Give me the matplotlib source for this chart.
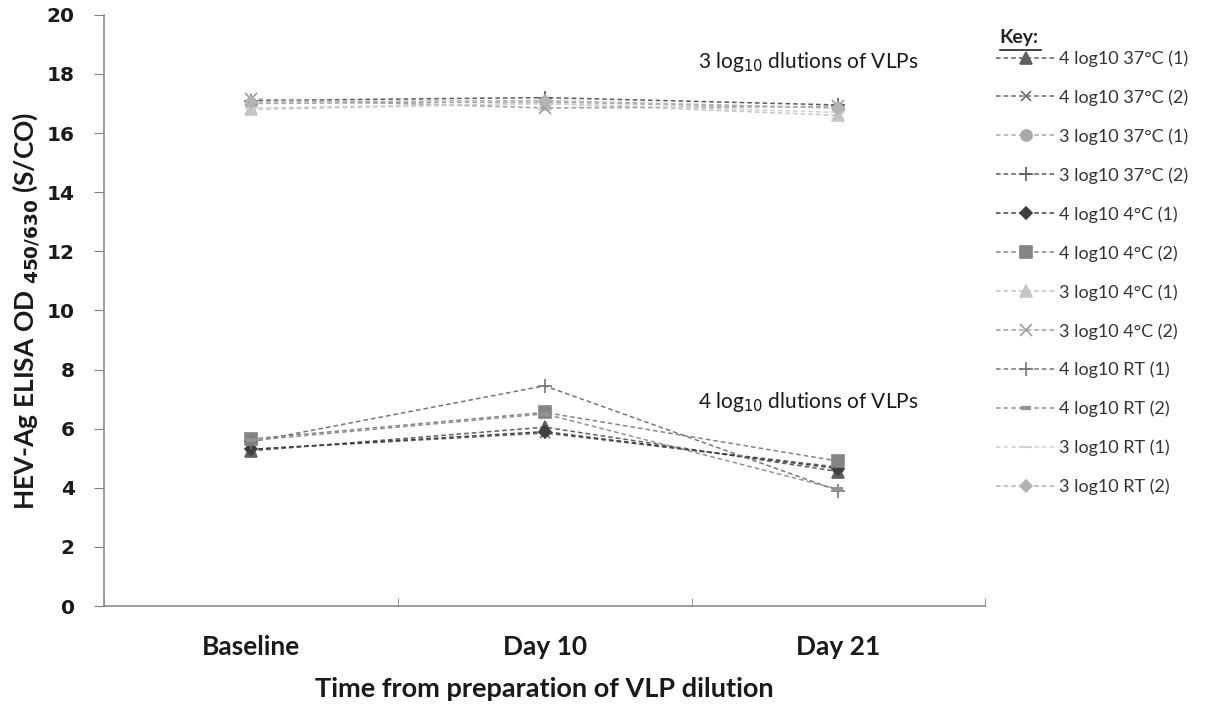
import matplotlib
matplotlib.use("Agg")
import matplotlib.pyplot as plt
from matplotlib.lines import Line2D

categories = ["Baseline", "Day 10", "Day 21"]

labels = [
    "4 log10 37°C (1)", "4 log10 37°C (2)", "3 log10 37°C (1)", "3 log10 37°C (2)",
    "4 log10 4°C (1)", "4 log10 4°C (2)", "3 log10 4°C (1)", "3 log10 4°C (2)",
    "4 log10 RT (1)", "4 log10 RT (2)", "3 log10 RT (1)", "3 log10 RT (2)",
]

s_4log_37_1 = [5.25, 6.05, 4.55]
s_4log_37_2 = [5.30, 5.85, 4.70]
s_3log_37_1 = [17.00, 17.05, 16.85]
s_3log_37_2 = [17.10, 17.20, 16.95]
s_4log_4_1 = [5.30, 5.90, 4.65]
s_4log_4_2 = [5.65, 6.55, 4.90]
s_3log_4_1 = [16.80, 17.00, 16.60]
s_3log_4_2 = [17.15, 16.85, 16.90]
s_4log_RT_1 = [5.55, 7.45, 3.90]
s_4log_RT_2 = [5.60, 6.50, 3.95]
s_3log_RT_1 = [16.85, 17.00, 16.70]
s_3log_RT_2 = [17.05, 17.10, 16.85]

series = [s_4log_37_1, s_4log_37_2, s_3log_37_1, s_3log_37_2,
          s_4log_4_1, s_4log_4_2, s_3log_4_1, s_3log_4_2,
          s_4log_RT_1, s_4log_RT_2, s_3log_RT_1, s_3log_RT_2]

styles = [
    dict(marker="^", color="#5f5f5f", ms=8),
    dict(marker="x", color="#6a6a6a", ms=7),
    dict(marker="o", color="#a9a9a9", ms=8),
    dict(marker="+", color="#5a5a5a", ms=10),
    dict(marker="D", color="#3f3f3f", ms=6),
    dict(marker="s", color="#858585", ms=8),
    dict(marker="^", color="#c4c4c4", ms=8),
    dict(marker="x", color="#9c9c9c", ms=8),
    dict(marker="+", color="#767676", ms=10),
    dict(marker="_", color="#939393", ms=7, mew=3),
    dict(marker="_", color="#cfcfcf", ms=8, mew=1.5),
    dict(marker="D", color="#b3b3b3", ms=6),
]

fig = plt.figure(figsize=(12.09, 7.06), dpi=100)
ax = fig.add_axes([0.086, 0.1416, 0.729, 0.8374])

x = list(range(len(categories)))
handles = []
for vals, st, lab in zip(series, styles, labels):
    kw = dict(st)
    mew = kw.pop("mew", 1.2)
    (h,) = ax.plot(x, vals, linestyle=(0, (3, 2)), linewidth=1.1,
                   color=kw["color"], marker=kw["marker"], markersize=kw["ms"],
                   markeredgewidth=mew, markerfacecolor=kw["color"],
                   markeredgecolor=kw["color"], label=lab)
    handles.append(h)

ax.set_xlim(-0.5, 2.5)
ax.set_ylim(0, 20)
ax.set_yticks(range(0, 21, 2))
ax.set_xticks(x)
ax.set_xticklabels(categories, fontsize=19, fontweight="bold", family="Lato", color="#1a1a1a")
ax.set_xticks([-0.5, 0.5, 1.5, 2.5], minor=True)
ax.tick_params(axis="x", which="major", length=0, pad=21)
ax.tick_params(axis="x", which="minor", length=6, direction="in", color="#808080")
ax.tick_params(axis="y", length=7, color="#808080", labelsize=14.5, pad=14)
for t in ax.get_yticklabels():
    t.set_fontweight("bold")
    t.set_color("#1a1a1a")
for s in ["top", "right"]:
    ax.spines[s].set_visible(False)
for s in ["left", "bottom"]:
    ax.spines[s].set_color("#8c8c8c")
    ax.spines[s].set_linewidth(1.2)

ax.set_xlabel("Time from preparation of VLP dilution", fontsize=19.5, fontweight="bold",
              family="Lato", labelpad=13, color="#1a1a1a")
ax.set_ylabel("HEV-Ag ELISA OD $_{\\mathbf{450/630}}$ (S/CO)", fontsize=19, fontweight="bold",
              family="Lato", labelpad=3, color="#1a1a1a")

ax.text(1.523, 18.4, "3 log$_{10}$ dlutions of VLPs", fontsize=15, family="Lato",
        va="center", ha="left", color="#1a1a1a")
ax.text(1.523, 6.9, "4 log$_{10}$ dlutions of VLPs", fontsize=15, family="Lato",
        va="center", ha="left", color="#1a1a1a")

fig.text(0.827, 0.947, "Key:", fontsize=14, fontweight="bold", family="Lato",
         ha="left", va="center", color="#222222")
fig.add_artist(Line2D([0.827, 0.861], [0.929, 0.929], color="#222222", linewidth=1.2))

leg = fig.legend(handles=handles, loc="upper left", bbox_to_anchor=(0.818, 0.939),
                 frameon=False, handlelength=3.3, handletextpad=0.2,
                 labelspacing=1.24, borderaxespad=0, prop={"family": "Lato", "size": 13})
for t in leg.get_texts():
    t.set_color("#333333")

fig.savefig("out.png", dpi=100)
